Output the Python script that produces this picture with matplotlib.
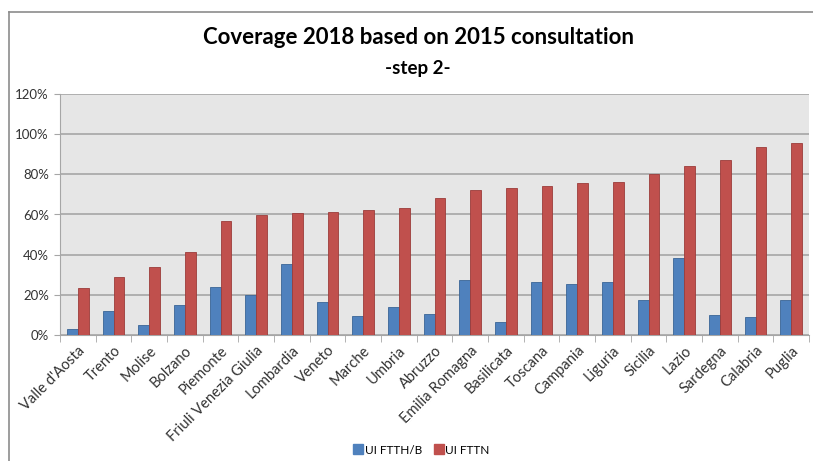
import matplotlib
matplotlib.use("Agg")
import matplotlib.pyplot as plt
from matplotlib.lines import Line2D
import matplotlib.transforms as mtransforms
import numpy as np

regions = ["Valle d'Aosta", "Trento", "Molise", "Bolzano", "Piemonte",
           "Friuli Venezia Giulia", "Lombardia", "Veneto", "Marche", "Umbria",
           "Abruzzo", "Emilia Romagna", "Basilicata", "Toscana", "Campania",
           "Liguria", "Sicilia", "Lazio", "Sardegna", "Calabria", "Puglia"]
ftth = [3, 11.8, 4.8, 15, 24, 20, 35.2, 16.3, 9.6, 14,
        10.5, 27.4, 6.6, 26.3, 25.3, 26.4, 17.6, 38.4, 10.1, 9, 17.3]
fttn = [23.6, 28.7, 34, 41.2, 56.7, 59.8, 60.7, 61.3, 62.3, 63,
        68.4, 72, 73.1, 74.1, 75.9, 76.4, 80.4, 84.1, 87.1, 93.7, 95.7]
yticks = [0, 20, 40, 60, 80, 100, 120]
series_names = ["UI FTTH/B", "UI FTTN"]

plt.rcParams['font.family'] = ['Lato', 'DejaVu Sans']

W, H = 813, 461
fig = plt.figure(figsize=(W / 100, H / 100), dpi=100)
ax = fig.add_axes([60 / W, 1 - 335 / H, (809 - 60) / W, (335 - 94) / H])

ax.set_facecolor('#E6E6E6')
x = np.arange(len(regions))
bw = 0.3
ax.bar(x - bw / 2, ftth, bw, color='#4F81BD', edgecolor='#3A6596', linewidth=0.6, zorder=3)
ax.bar(x + bw / 2, fttn, bw, color='#C0504D', edgecolor='#9C3C3A', linewidth=0.6, zorder=3)

ax.set_xlim(-0.5, len(regions) - 0.5)
ax.set_ylim(0, 120)
ax.set_yticks(yticks)
ax.set_yticklabels([f"{v}%" for v in yticks], fontsize=9.5, color='#333333')
ax.yaxis.grid(True, color='#A6A6A6', linewidth=1.2, zorder=1)
ax.set_axisbelow(True)
ax.tick_params(axis='y', length=4, color='#A6A6A6', pad=4)

ax.set_xticks(x)
ax.set_xticklabels(regions, rotation=45, ha='right', rotation_mode='anchor',
                   fontsize=10.5, color='#333333')
offset = mtransforms.ScaledTranslation(9 / 100, 0, fig.dpi_scale_trans)
for lbl in ax.get_xticklabels():
    lbl.set_transform(lbl.get_transform() + offset)
ax.set_xticks(np.arange(-0.5, len(regions), 1), minor=True)
ax.tick_params(axis='x', which='major', length=0, pad=6)
ax.tick_params(axis='x', which='minor', length=5, color='#A6A6A6')

for s in ['top', 'right']:
    ax.spines[s].set_visible(False)
ax.spines['left'].set_color('#A6A6A6')
ax.spines['bottom'].set_color('#A6A6A6')

fig.text(418 / W, 1 - 38 / H, "Coverage 2018 based on 2015 consultation",
         ha='center', va='center', fontsize=16, fontweight='bold')
fig.text(418 / W, 1 - 68 / H, "-step 2-", ha='center', va='center',
         fontsize=13.5, fontweight='bold')

handles = [Line2D([], [], marker='s', linestyle='', markersize=7,
                  markerfacecolor=c, markeredgecolor=c)
           for c in ['#4F81BD', '#C0504D']]
fig.legend(handles, series_names, loc='center', bbox_to_anchor=(421 / W, 1 - 450 / H),
           ncol=2, frameon=False, fontsize=8.5, handletextpad=0.05,
           columnspacing=0.9, handlelength=1.0)

# outer frame lines
fig.add_artist(Line2D([9 / W, 9 / W], [0, 1 - 12 / H], color='#8C8C8C', linewidth=1.2,
                      transform=fig.transFigure))
fig.add_artist(Line2D([9 / W, 1], [1 - 12 / H, 1 - 12 / H], color='#8C8C8C', linewidth=1.2,
                      transform=fig.transFigure))

fig.savefig("out.png", dpi=100)
